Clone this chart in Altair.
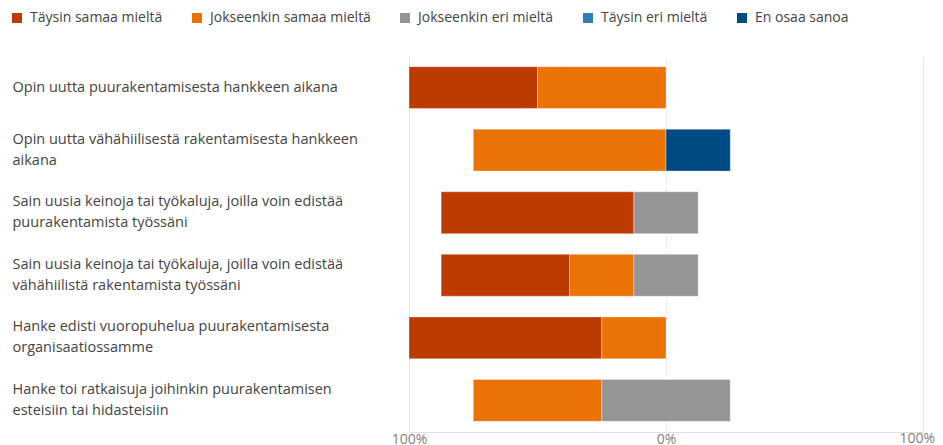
import altair as alt
import pandas as pd

statements = [
    "Opin uutta puurakentamisesta hankkeen aikana",
    "Opin uutta vähähiilisestä rakentamisesta hankkeen\naikana",
    "Sain uusia keinoja tai työkaluja, joilla voin edistää\npuurakentamista työssäni",
    "Sain uusia keinoja tai työkaluja, joilla voin edistää\nvähähiilistä rakentamista työssäni",
    "Hanke edisti vuoropuhelua puurakentamisesta\norganisaatiossamme",
    "Hanke toi ratkaisuja joihinkin puurakentamisen\nesteisiin tai hidasteisiin",
]
responses = ["Täysin samaa mieltä", "Jokseenkin samaa mieltä", "Jokseenkin eri mieltä",
             "Täysin eri mieltä", "En osaa sanoa"]
colors = ["#BD3B00", "#EB7205", "#959595", "#2F7DB6", "#004A83"]

taysin_samaa = [50, 0, 75, 50, 75, 0]
jokseenkin_samaa = [50, 75, 0, 25, 25, 50]
jokseenkin_eri = [0, 0, 25, 25, 0, 50]
taysin_eri = [0, 0, 0, 0, 0, 0]
en_osaa = [0, 25, 0, 0, 0, 0]

tick_values = [-100, 0, 100]

series = [taysin_samaa, jokseenkin_samaa, jokseenkin_eri, taysin_eri, en_osaa]

rows = []
for i, s in enumerate(statements):
    start = -(taysin_samaa[i] + jokseenkin_samaa[i] + jokseenkin_eri[i] / 2)
    for r, vals in zip(responses, series):
        v = vals[i]
        if v > 0:
            rows.append({"statement": s, "response": r, "x": start, "x2": start + v, "value": v})
        start += v
df = pd.DataFrame(rows)

FONT = "Open Sans"
W, H = 514, 376

bars = alt.Chart(df).mark_bar(stroke="white", strokeWidth=1, strokeOpacity=0.35).encode(
    y=alt.Y("statement:N", sort=statements, title=None,
            scale=alt.Scale(paddingInner=0.33, paddingOuter=0.17),
            axis=alt.Axis(labelAlign="left", labelPadding=397, ticks=False, domain=False,
                          labelLimit=390, labelFontSize=14.5, labelColor="#444444",
                          labelFont=FONT, labelLineHeight=21,
                          labelOffset=alt.condition("indexof(datum.value, '\\n') >= 0",
                                                    alt.value(-10.5), alt.value(0)),
                          labelExpr="split(datum.label, '\\n')")),
    x=alt.X("x:Q", title=None,
            scale=alt.Scale(domain=[-100, 100], nice=False),
            axis=alt.Axis(values=tick_values,
                          labelExpr="datum.value == 100 ? '' : abs(datum.value) + '%'",
                          ticks=False, grid=True, gridColor="#e4e4e4",
                          gridDash=alt.condition("datum.value == 0", alt.value([4, 4]), alt.value([])),
                          domain=True, domainColor="#e0e0e0", labelFontSize=14,
                          labelColor="#808080", labelFont=FONT, labelPadding=0,
                          labelFlush=False)),
    x2="x2:Q",
    color=alt.Color("response:N", sort=responses,
                    scale=alt.Scale(domain=responses, range=colors),
                    legend=alt.Legend(title=None, orient="none", legendX=-399, legendY=-45,
                                      direction="horizontal", symbolType="square",
                                      symbolSize=100, symbolStrokeWidth=0, padding=0,
                                      labelFontSize=14, labelFont=FONT, labelColor="#444444",
                                      labelLimit=300, columnPadding=27, labelOffset=6)),
)

right_df = pd.DataFrame({"tick": [tick_values[-1]], "label": [f"{abs(tick_values[-1])}%"]})
right_label = alt.Chart(right_df).mark_text(
    align="right", baseline="top", dx=12, fontSize=14, font=FONT, color="#808080"
).encode(
    x=alt.X("tick:Q", axis=None, title=None),
    y=alt.value(H),
    text="label:N",
)

chart = alt.layer(bars, right_label).resolve_axis(x="independent").properties(
    width=W, height=H,
    padding={"left": 2, "top": 3, "right": 0, "bottom": 0},
).configure_view(stroke=None)

chart.save("out.html", embed_options={"renderer": "svg", "actions": False})
